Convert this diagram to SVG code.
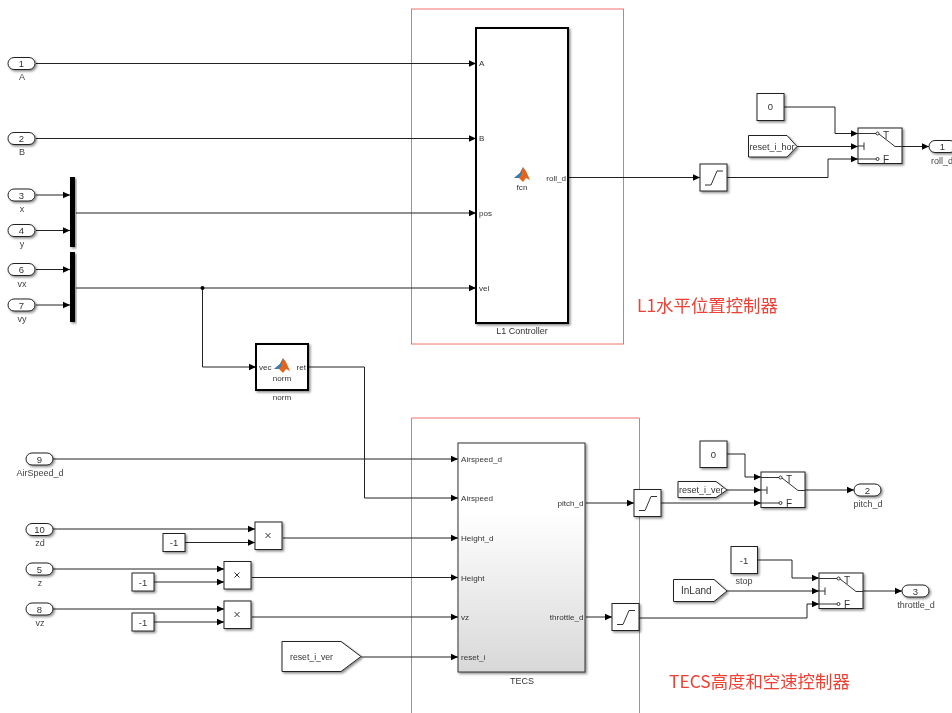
<svg xmlns="http://www.w3.org/2000/svg" width="952" height="713" viewBox="0 0 952 713">
<style>
text{font-family:"Liberation Sans",Arial,sans-serif;font-size:9px;fill:#333}
.m{text-anchor:middle}
.e{text-anchor:end}
.lab{fill:#444}
.num{font-size:9.5px}
.p{font-size:8.1px}
.b{fill:#fff;stroke:#222;stroke-width:1;filter:url(#sh)}
.thick{fill:#fff;stroke:#000;stroke-width:2;filter:url(#sh)}
.c{fill:none;stroke:#222;stroke-width:1}
.w{fill:none;stroke:#222;stroke-width:1;marker-end:url(#ah)}
.i{fill:none;stroke:#333;stroke-width:1}
.red{fill:none;stroke:#f0716c;stroke-width:1}
.zh{font-family:"Noto Sans CJK SC","Liberation Sans",sans-serif;font-size:17.400px;fill:#ee4136}
.t{font-size:10px}
</style>
<defs>
<filter id="sh" x="-20%" y="-20%" width="150%" height="150%"><feDropShadow dx="1.5" dy="1.5" stdDeviation="1" flood-color="#000" flood-opacity=".45"/></filter>
<filter id="bl" filterUnits="userSpaceOnUse" x="0" y="0" width="952" height="713"><feGaussianBlur stdDeviation=".35"/></filter>
<marker id="ah" markerUnits="userSpaceOnUse" markerWidth="8" markerHeight="8" refX="7" refY="4" orient="auto"><path d="M0 .8L7 4L0 7.2z" fill="#000"/></marker>
<linearGradient id="tg" x1="0" y1="0" x2="0" y2="1"><stop offset=".3" stop-color="#fff"/><stop offset="1" stop-color="#d8d8d8"/></linearGradient>
<g id="sat"><rect class="b" width="27" height="27"/><path class="i" d="M5 21H11L17 7H23"/></g>
<g id="sw"><rect class="b" width="44" height="35.500"/><path class="i" d="M0 5.500H18M0 18H6M6 14.500V22M0 31H18M21 6L37 18.500H44"/><circle class="i" cx="19.500" cy="5.500" r="1.500" fill="#fff"/><circle class="i" cx="19.500" cy="31" r="1.500" fill="#fff"/></g>
<g id="pill"><rect class="b" width="27" height="12" rx="6"/></g>
<g id="ml"><path d="M-8 3L-2 -2L1 -8L4 -4L8 5L4 3L1 7L-3 3z" fill="#e2651f"/><path d="M-8 3L-2 -2L1 -8L-1 0L-3 3z" fill="#2f7fc0"/></g>
<g id="mul"><rect class="b" width="27" height="27.500"/><path class="i" d="M10.500 11L15.500 16M15.500 11L10.500 16"/></g>
</defs>
<rect width="952" height="713" fill="#fff"/>
<g id="diagram" filter="url(#bl)">
<g id="regions">
<rect class="red" x="411.500" y="9" width="212" height="335"/>
<path class="red" d="M411.500 713V418H639.500V713"/>
</g>
<g id="connectors">
<path class="w" d="M36 63.500H476"/>
<path class="w" d="M36 138.500H476"/>
<path class="w" d="M36 195H70"/>
<path class="w" d="M36 230.500H70"/>
<path class="w" d="M36 269.500H70"/>
<path class="w" d="M36 305H70"/>
<path class="w" d="M76 213H476"/>
<path class="w" d="M76 288H476"/>
<path class="w" d="M202.500 288V367H256"/>
<circle cx="202.500" cy="288" r="2" fill="#000"/>
<path class="w" d="M309 367H364.500V498H458"/>
<path class="w" d="M568 177.500H700"/>
<path class="w" d="M726 177.500H828V159H858"/>
<path class="w" d="M783 107H835V133.500H858"/>
<path class="w" d="M797 146.500H858"/>
<path class="w" d="M902 146.500H929"/>
<path class="w" d="M53 459H458"/>
<path class="w" d="M53 529H255"/>
<path class="w" d="M185 542.500H255"/>
<path class="w" d="M53 569H224"/>
<path class="w" d="M154 582H224"/>
<path class="w" d="M53 609H224"/>
<path class="w" d="M154 622H224"/>
<path class="w" d="M283 538H458"/>
<path class="w" d="M252 577.500H458"/>
<path class="w" d="M252 617H458"/>
<path class="w" d="M361 657H458"/>
<path class="w" d="M586 503H634"/>
<path class="w" d="M586 617H612"/>
<path class="w" d="M661 503H761"/>
<path class="w" d="M727 454H745V477H761"/>
<path class="w" d="M727 490H761"/>
<path class="w" d="M805 490H854"/>
<path class="w" d="M639 618H807V604H819"/>
<path class="w" d="M757 560H792V578H819"/>
<path class="w" d="M727 591H819"/>
<path class="w" d="M863 591H902"/>
</g>
<g id="in1"><use href="#pill" x="8" y="57.500"/><text class="m num" x="21.500" y="67">1</text><text class="m lab" x="22" y="80">A</text></g>
<g id="in2"><use href="#pill" x="8" y="132.500"/><text class="m num" x="21.500" y="142">2</text><text class="m lab" x="22" y="155">B</text></g>
<g id="in3"><use href="#pill" x="8" y="189"/><text class="m num" x="21.500" y="198.500">3</text><text class="m lab" x="22" y="212">x</text></g>
<g id="in4"><use href="#pill" x="8" y="224.500"/><text class="m num" x="21.500" y="234">4</text><text class="m lab" x="22" y="247">y</text></g>
<g id="in6"><use href="#pill" x="8" y="263.500"/><text class="m num" x="21.500" y="273">6</text><text class="m lab" x="22" y="287">vx</text></g>
<g id="in7"><use href="#pill" x="8" y="299"/><text class="m num" x="21.500" y="308.500">7</text><text class="m lab" x="22" y="322">vy</text></g>
<g id="mux1"><rect x="70" y="177" width="5" height="70" fill="#000" filter="url(#sh)"/></g>
<g id="mux2"><rect x="70" y="252" width="5" height="70" fill="#000" filter="url(#sh)"/></g>
<g id="l1"><rect class="thick" x="476" y="28" width="92" height="295"/>
<text class="p" x="479" y="66">A</text><text class="p" x="479" y="141">B</text><text class="p" x="479" y="216">pos</text><text class="p" x="479" y="291">vel</text><text class="e p" x="566" y="181">roll_d</text>
<use href="#ml" x="522" y="175"/><text class="m p" x="522" y="190">fcn</text><text class="m" x="522" y="333.500">L1 Controller</text></g>
<g id="norm"><rect class="thick" x="256" y="344" width="52" height="46"/>
<text class="p" x="259" y="370">vec</text><text class="e p" x="306" y="370">ret</text><use href="#ml" x="282" y="366"/><text class="m p" x="282" y="381">norm</text><text class="m p" x="282" y="400">norm</text></g>
<g id="sat1"><use href="#sat" x="700" y="164"/></g>
<g id="const0a"><rect class="b" x="757" y="93.500" width="27" height="27"/><text class="m num" x="770.500" y="110">0</text></g>
<g id="gotoh"><path class="b" d="M748.500 135.500H787L797 146.500L787 157H748.500z"/><text x="749.500" y="150">reset_i_hor</text></g>
<g id="sw1"><use href="#sw" x="858" y="128"/><text class="t" x="883" y="138.500">T</text><text class="t" x="883" y="163">F</text></g>
<g id="out1"><use href="#pill" x="929" y="140.500"/><text class="m num" x="942.500" y="150">1</text><text class="m lab" x="942" y="164">roll_d</text></g>
<g id="in9"><use href="#pill" x="26" y="453"/><text class="m num" x="39.500" y="462.500">9</text><text class="m lab" x="40" y="476">AirSpeed_d</text></g>
<g id="in10"><use href="#pill" x="26" y="523.500"/><text class="m num" x="39.500" y="533">10</text><text class="m lab" x="40" y="546">zd</text></g>
<g id="in5"><use href="#pill" x="26" y="563"/><text class="m num" x="39.500" y="572.500">5</text><text class="m lab" x="40" y="586">z</text></g>
<g id="in8"><use href="#pill" x="26" y="603"/><text class="m num" x="39.500" y="612.500">8</text><text class="m lab" x="40" y="626">vz</text></g>
<g id="cm1"><rect class="b" x="163" y="533.500" width="22" height="18"/><text class="m num" x="174" y="546">-1</text></g>
<g id="cm2"><rect class="b" x="132" y="573" width="22" height="18"/><text class="m num" x="143" y="586">-1</text></g>
<g id="cm3"><rect class="b" x="132" y="613" width="22" height="18"/><text class="m num" x="143" y="626">-1</text></g>
<g id="mul1"><use href="#mul" x="255" y="522"/></g>
<g id="mul2"><use href="#mul" x="224" y="561.500"/></g>
<g id="mul3"><use href="#mul" x="224" y="601"/></g>
<g id="gotov"><path class="b" d="M282 641.500H341L361 656.500L341 671.500H282z"/><text x="290" y="660" style="font-size:8.700px">reset_i_ver</text></g>
<g id="tecs"><rect x="458" y="443" width="127" height="229" fill="url(#tg)" stroke="#333" stroke-width="1" filter="url(#sh)"/>
<text class="p" x="461" y="462">Airspeed_d</text><text class="p" x="461" y="501">Airspeed</text><text class="p" x="461" y="541">Height_d</text><text class="p" x="461" y="581">Height</text><text class="p" x="461" y="620">vz</text><text class="p" x="461" y="660">reset_i</text>
<text class="e p" x="583.500" y="506">pitch_d</text><text class="e p" x="583.500" y="620">throttle_d</text><text class="m" x="522" y="683.500">TECS</text></g>
<g id="sat2"><use href="#sat" x="634" y="489.500"/></g>
<g id="sat3"><use href="#sat" x="612" y="603.500"/></g>
<g id="const0b"><rect class="b" x="700" y="441" width="27" height="26.500"/><text class="m num" x="713.500" y="458">0</text></g>
<g id="gotov2"><path class="b" d="M678 481.500H716L727 490L716 497.500H678z"/><text x="679" y="493">reset_i_ver</text></g>
<g id="sw2"><use href="#sw" x="761" y="472"/><text class="t" x="786" y="482.500">T</text><text class="t" x="786" y="507">F</text></g>
<g id="out2"><use href="#pill" x="854" y="484"/><text class="m num" x="867.500" y="493.500">2</text><text class="m lab" x="868" y="507">pitch_d</text></g>
<g id="stop"><rect class="b" x="731" y="546.500" width="26.500" height="27"/><text class="m num" x="744" y="564">-1</text><text class="m lab" x="744" y="584">stop</text></g>
<g id="inland"><path class="b" d="M673.500 579.500H714L727 591L714 601.500H673.500z"/><text class="t" x="681" y="594">InLand</text></g>
<g id="sw3"><use href="#sw" x="819" y="573"/><text class="t" x="844" y="583.500">T</text><text class="t" x="844" y="608">F</text></g>
<g id="out3"><use href="#pill" x="902" y="585"/><text class="m num" x="915.500" y="594.500">3</text><text class="m lab" x="916" y="608">throttle_d</text></g>
<g id="notes"><text class="zh" x="637" y="312">L1水平位置控制器</text><text class="zh" x="669" y="688">TECS高度和空速控制器</text></g>
</g>
</svg>
